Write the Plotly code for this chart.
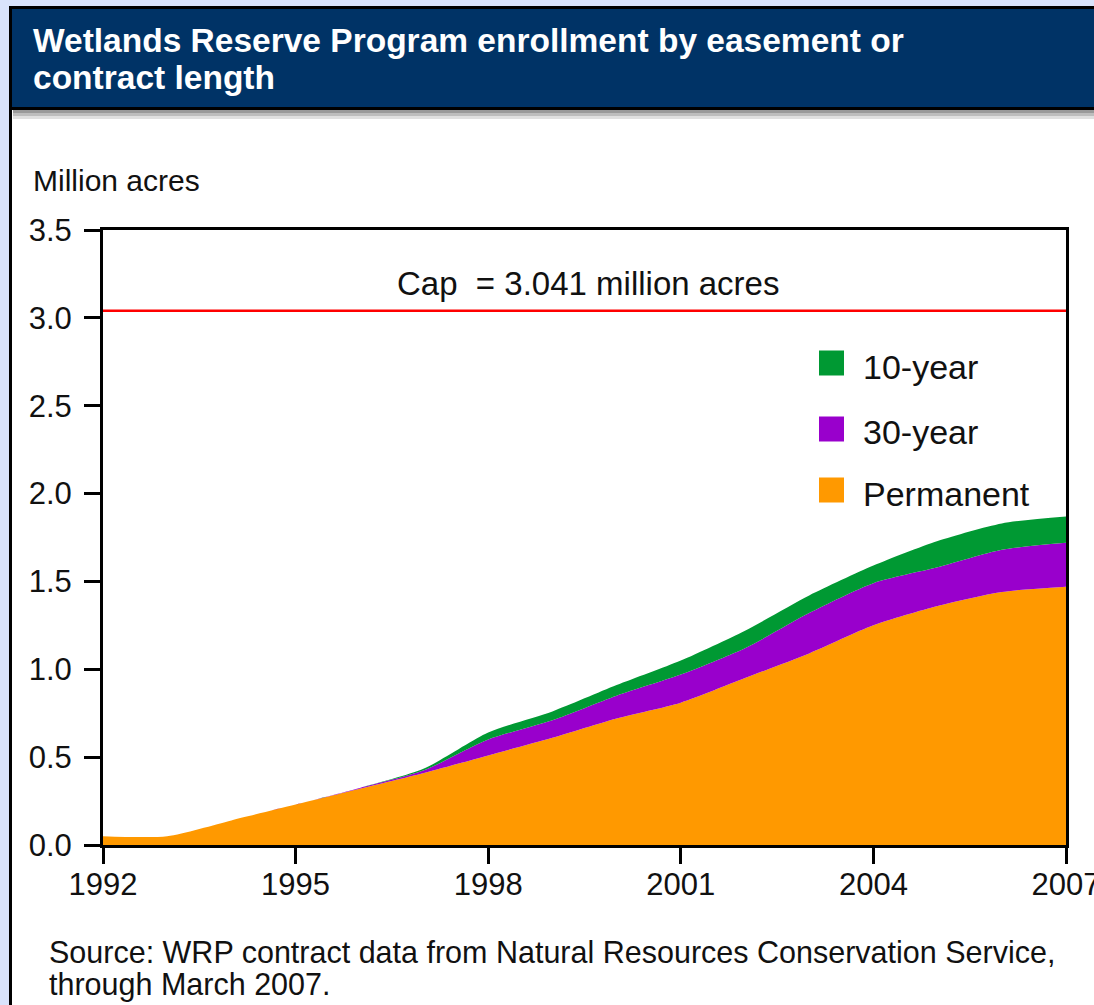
import plotly.graph_objects as go

years = list(range(1992, 2008))
permanent = [0.05, 0.05, 0.14, 0.23, 0.32, 0.41, 0.51, 0.61, 0.72, 0.81, 0.95, 1.09, 1.25, 1.36, 1.44, 1.47]
thirty_year = [0.0, 0.0, 0.0, 0.0, 0.005, 0.015, 0.09, 0.10, 0.13, 0.16, 0.17, 0.23, 0.24, 0.22, 0.24, 0.25]
ten_year = [0.0, 0.0, 0.0, 0.0, 0.0, 0.01, 0.04, 0.05, 0.06, 0.08, 0.10, 0.10, 0.10, 0.15, 0.15, 0.15]
cap_value = 3.041
x_ticks = [1992, 1995, 1998, 2001, 2004, 2007]
y_ticks = [0.0, 0.5, 1.0, 1.5, 2.0, 2.5, 3.0, 3.5]
title_lines = ["Wetlands Reserve Program enrollment by easement or", "contract length"]
source_lines = ["Source: WRP contract data from Natural Resources Conservation Service,",
                "through March 2007."]

series = [("Permanent", permanent, "#FF9900"),
          ("30-year", thirty_year, "#9900CC"),
          ("10-year", ten_year, "#009933")]

W, H = 1094, 1005
L, R, T, B = 103, 28, 230, 160
PW, PH = W - L - R, H - T - B
FONT = "Liberation Sans, Arial"
TXT = "#111111"

def px(x):
    return (x - L) / PW

def py(y):
    return (H - B - y) / PH

fig = go.Figure()
for name, vals, col in series:
    fig.add_trace(go.Scatter(
        x=years, y=vals, name=name, stackgroup="one", mode="lines",
        line=dict(width=0, shape="spline", smoothing=0.7, color=col),
        fillcolor=col, showlegend=False, hoverinfo="x+y+name"))

shapes = []
shapes.append(dict(type="rect", xref="paper", yref="paper",
                   x0=px(10.5), x1=px(1110), y0=py(1020), y1=py(7.5),
                   fillcolor="white", line=dict(color="black", width=3), layer="below"))
shapes.append(dict(type="rect", xref="paper", yref="paper",
                   x0=px(12), x1=px(1110), y0=py(108), y1=py(9),
                   fillcolor="#003366", line=dict(width=0), layer="below"))
shapes.append(dict(type="rect", xref="paper", yref="paper",
                   x0=px(12), x1=px(1110), y0=py(110), y1=py(107),
                   fillcolor="black", line=dict(width=0), layer="below"))
for (a, b, c) in [(110, 113, "#9a9a9a"), (113, 116, "#bdbdbd"), (116, 119, "#e0e0e0")]:
    shapes.append(dict(type="rect", xref="paper", yref="paper",
                       x0=px(13), x1=px(1110), y0=py(b), y1=py(a),
                       fillcolor=c, line=dict(width=0), layer="below"))
shapes.append(dict(type="line", xref="paper", yref="y", x0=0, x1=1,
                   y0=cap_value, y1=cap_value, line=dict(color="#FF0000", width=2.5)))

annotations = []
for txt, yc in zip(title_lines, [41, 77]):
    annotations.append(dict(text="<b>%s</b>" % txt, xref="paper", yref="paper", x=px(31), y=py(yc),
                            xanchor="left", yanchor="middle", showarrow=False,
                            font=dict(family=FONT, size=33.5, color="white")))
annotations.append(dict(text="Million acres", xref="paper", yref="paper", x=px(31), y=py(180),
                        xanchor="left", yanchor="middle", showarrow=False,
                        font=dict(family=FONT, size=30, color=TXT)))
annotations.append(dict(text="Cap \u00a0= %.3f million acres" % cap_value, xref="paper", yref="paper",
                        x=px(588), y=py(283), xanchor="center", yanchor="middle", showarrow=False,
                        font=dict(family=FONT, size=33, color=TXT)))
for txt, yc in zip(source_lines, [952, 985]):
    annotations.append(dict(text=txt, xref="paper", yref="paper", x=px(47), y=py(yc),
                            xanchor="left", yanchor="middle", showarrow=False,
                            font=dict(family=FONT, size=30.5, color=TXT)))

leg_sq = [363, 429, 490]
leg_tx = [367, 432, 494]
for (name, vals, col), ys, yt in zip(series[::-1], leg_sq, leg_tx):
    shapes.append(dict(type="rect", xref="paper", yref="paper",
                       x0=px(819), x1=px(844), y0=py(ys + 12.5), y1=py(ys - 12.5),
                       fillcolor=col, line=dict(width=0)))
    annotations.append(dict(text=name, xref="paper", yref="paper", x=px(861), y=py(yt),
                            xanchor="left", yanchor="middle", showarrow=False,
                            font=dict(family=FONT, size=34, color=TXT)))

fig.update_layout(
    width=W, height=H,
    margin=dict(l=L, r=R, t=T, b=B, autoexpand=False),
    paper_bgcolor="#d9e3fb", plot_bgcolor="white",
    shapes=shapes, annotations=annotations, showlegend=False,
    font=dict(family=FONT, color=TXT),
)
fig.update_xaxes(range=[1992, 2007], tickmode="array", tickvals=x_ticks,
                 ticktext=[str(v) for v in x_ticks], ticks="outside", ticklen=16, tickwidth=3,
                 tickcolor="black", showline=True, linecolor="black", linewidth=3, mirror=True,
                 showgrid=False, zeroline=False, automargin=False, ticklabelstandoff=-6,
                 ticklabeloverflow="allow",
                 tickfont=dict(size=31, color=TXT))
fig.update_yaxes(range=[0, 3.5], tickmode="array", tickvals=y_ticks,
                 ticktext=["%.1f" % v for v in y_ticks], ticks="outside", ticklen=16, tickwidth=3,
                 tickcolor="black", showline=True, linecolor="black", linewidth=3, mirror=True,
                 showgrid=False, zeroline=False, automargin=False, ticklabelstandoff=6,
                 ticklabeloverflow="allow",
                 tickfont=dict(size=31, color=TXT))

fig.write_html("out.html", config={"displayModeBar": False},
               post_script="document.body.style.margin='0px';document.body.style.overflow='hidden';")
